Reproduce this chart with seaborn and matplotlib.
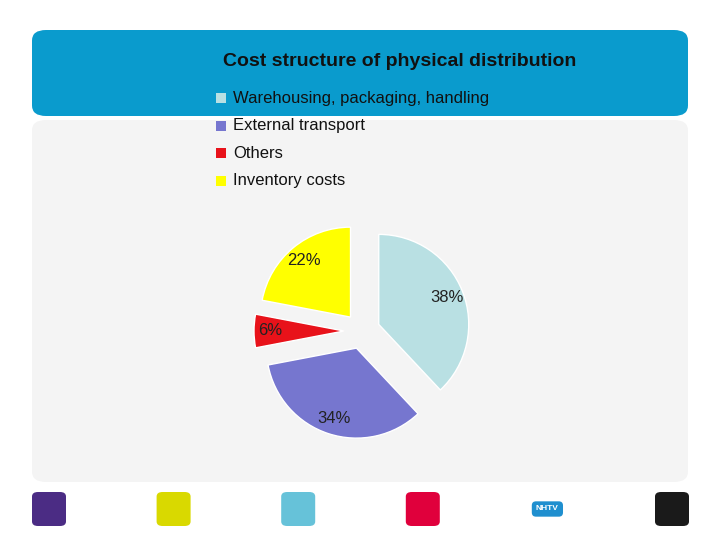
import matplotlib
matplotlib.use("Agg")
import matplotlib.pyplot as plt
import seaborn as sns
from matplotlib.patches import FancyBboxPatch, Rectangle

sns.set_theme(style="white")
plt.rcParams['font.family'] = ['Liberation Sans', 'DejaVu Sans']

labels = ["Warehousing, packaging, handling", "External transport", "Others", "Inventory costs"]
shares = [38, 34, 6, 22]
colors = ["#B9E0E3", "#7676CF", "#E8121A", "#FFFF00"]
footer_colors = ["#4B2C84", "#D9D900", "#66C2D9", "#E0003C", None, "#1A1A1A"]

W, H = 720, 540
fig = plt.figure(figsize=(7.2, 5.4), dpi=100)
fig.patch.set_facecolor("white")

def box(x, y, w, h, color, r=10, z=-5):
    # pixel coords from top-left
    p = FancyBboxPatch((x / W, 1 - (y + h) / H), w / W, h / H,
                       boxstyle=f"round,pad=0,rounding_size={r / W}",
                       transform=fig.transFigure, facecolor=color, edgecolor="none", zorder=z)
    fig.patches.append(p)

box(32, 120, 656, 362, "#F4F4F4", r=14)
box(32, 30, 656, 86, "#0A9BCD", r=14)
for i, c in enumerate(footer_colors):
    x = 32 + i * 124.6
    if c:
        box(x, 492, 34, 34, c, r=6)
    else:
        fig.text((x + 17) / W, 1 - 509 / H, "NHTV", ha="center", va="center",
                 fontsize=6, color="white", weight="bold",
                 bbox=dict(boxstyle="round,pad=0.5", fc="#1F8FCF", ec="none"))

fig.text(400 / W, 1 - 61 / H, "Cost structure of physical distribution",
         ha="center", va="center", fontsize=14, weight="bold", color="#111111")

for i, (lab, c) in enumerate(zip(labels, colors)):
    y = 98 + i * 27.5
    fig.patches.append(Rectangle((216 / W, 1 - (y + 5) / H), 10 / W, 10 / H,
                                 transform=fig.transFigure, facecolor=c, edgecolor="none"))
    fig.text(233 / W, 1 - y / H, lab, ha="left", va="center", fontsize=12, color="#111111")

size = 270
cx, cy = 362, 331
ax = fig.add_axes([(cx - size / 2) / W, 1 - (cy + size / 2) / H, size / W, size / H])
ax.set_zorder(5)
ax.patch.set_alpha(0)
ax.pie(shares, colors=colors, startangle=90, counterclock=False,
       explode=[0.2, 0.2, 0.2, 0.2], autopct="%d%%", pctdistance=0.82,
       textprops=dict(fontsize=12, color="#222222"))
ax.set_xlim(-1.5, 1.5)
ax.set_ylim(-1.5, 1.5)
ax.set_aspect("equal")
ax.axis("off")

fig.savefig("out.png", dpi=100)
